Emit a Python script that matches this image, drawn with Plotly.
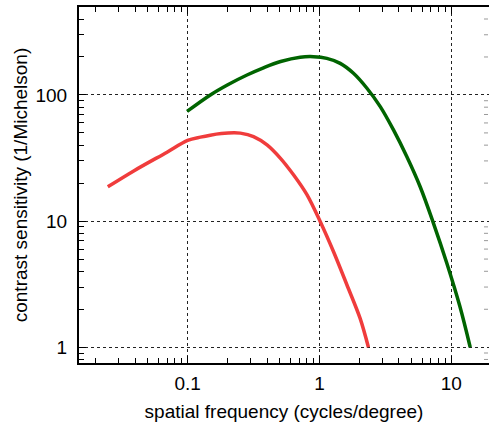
import plotly.graph_objects as go
import numpy as np

# Data
red_x = [0.0248, 0.039, 0.0698, 0.1, 0.125, 0.1486, 0.18, 0.2244, 0.251, 0.316, 0.400, 0.504,
         0.635, 0.803, 1.012, 1.276, 1.613, 2.03, 2.35]
red_y = [18.7, 25.0, 35.2, 43.6, 46.3, 48.0, 49.4, 50.1, 49.8, 46.8, 40.2, 31.6,
         23.3, 16.2, 9.93, 5.74, 3.13, 1.70, 1.0]

green_x = [0.099, 0.1486, 0.2, 0.282, 0.38, 0.507, 0.714, 0.901, 1.137, 1.436, 1.81,
           2.29, 2.89, 3.64, 4.59, 5.79, 7.31, 9.23, 11.6, 13.9]
green_y = [74, 100, 120, 144, 165, 184, 199, 201, 195, 178, 148.5,
           113, 80.8, 52.8, 32.5, 18.8, 9.64, 4.65, 2.11, 1.0]

x_ticks = [0.1, 1, 10]
x_ticklabels = ["0.1", "1", "10"]
y_ticks = [1, 10, 100]
y_ticklabels = ["1", "10", "100"]

x_lo, x_hi = 0.015, 19.3
y_lo, y_hi = 0.75, 498
x_minor = [m * 10.0 ** d for d in (-2, -1, 0, 1) for m in range(2, 10)
           if x_lo < m * 10.0 ** d < x_hi]
y_minor = [m * 10.0 ** d for d in (-1, 0, 1, 2) for m in range(2, 10)
           if y_lo < m * 10.0 ** d < y_hi]

x_range = [np.log10(x_lo), np.log10(x_hi)]
y_range = [np.log10(y_lo), np.log10(y_hi)]

fig = go.Figure()
fig.add_trace(go.Scatter(x=red_x, y=red_y, mode="lines",
                         line=dict(color="#f03c3c", width=3.5, shape="spline", smoothing=0.9),
                         showlegend=False))
fig.add_trace(go.Scatter(x=green_x, y=green_y, mode="lines",
                         line=dict(color="#006400", width=3.5, shape="spline", smoothing=1.0),
                         showlegend=False))

# faint minor ticks on the right edge (no visible right axis line in the reference)
shapes = [dict(type="line", xref="paper", yref="y", xsizemode="pixel",
               xanchor=1, x0=-1, x1=-5, y0=yv, y1=yv,
               line=dict(color="#999", width=1), layer="above") for yv in y_minor]

font = dict(family="Liberation Sans, Arial, sans-serif", size=19, color="black")
grid = dict(showgrid=True, gridcolor="#222", gridwidth=1, griddash="3px,3px")
minor_style = dict(ticks="inside", ticklen=5, tickcolor="black", tickwidth=1, showgrid=False)

fig.update_layout(
    width=489, height=427,
    margin=dict(l=79, r=0, t=7, b=64),
    paper_bgcolor="white", plot_bgcolor="white",
    font=font,
    shapes=shapes,
    xaxis=dict(
        type="log", range=x_range, automargin=False,
        tickvals=x_ticks, ticktext=x_ticklabels,
        ticks="inside", ticklen=7, tickcolor="black", tickwidth=1,
        showline=True, linecolor="black", linewidth=2, mirror="ticks",
        zeroline=False, **grid,
        minor=dict(tickmode="array", tickvals=x_minor, **minor_style),
        title=dict(text="spatial frequency (cycles/degree)", standoff=12, font=font),
        tickfont=font, ticklabelstandoff=2,
    ),
    yaxis=dict(
        type="log", range=y_range, automargin=False,
        tickvals=y_ticks, ticktext=y_ticklabels,
        ticks="inside", ticklen=7, tickcolor="black", tickwidth=1,
        showline=True, linecolor="black", linewidth=2,
        zeroline=False, **grid,
        minor=dict(tickmode="array", tickvals=y_minor, **minor_style),
        title=dict(text="contrast sensitivity (1/Michelson)", standoff=3, font=font),
        tickfont=font, ticklabelstandoff=6,
    ),
)

fig.write_html("out.html", config={"displayModeBar": False},
               post_script="document.body.style.margin='0';")
